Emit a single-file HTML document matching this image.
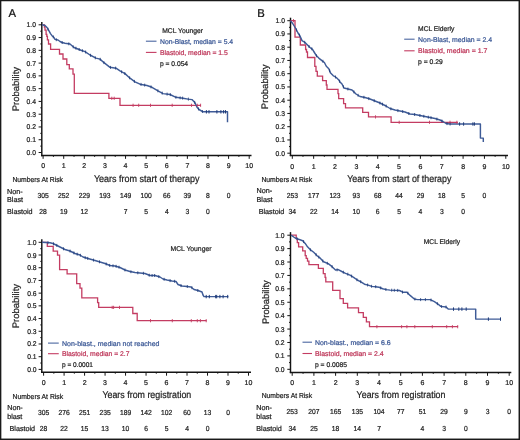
<!DOCTYPE html>
<html><head><meta charset="utf-8"><style>
html,body{margin:0;padding:0;background:#fff;}
body{width:520px;height:440px;overflow:hidden;}
svg{display:block;font-family:"Liberation Sans", sans-serif;}
text{stroke-width:0.22px;}
svg{will-change:transform;text-rendering:geometricPrecision;}
</style></head><body>
<svg width="520" height="440" viewBox="0 0 520 440">
<rect x="0" y="0" width="520" height="440" fill="#fff"/>
<g fill="#1a1a1a"><rect x="0" y="0" width="520" height="1.25"/><rect x="0" y="0" width="1.35" height="440"/><rect x="518.55" y="0" width="1.45" height="440"/><rect x="0" y="438.55" width="520" height="1.45"/></g>
<line x1="41.8" y1="22" x2="41.8" y2="156.17499999999998" stroke="#141414" stroke-width="1.45"/>
<line x1="41.074999999999996" y1="155.45" x2="251.5" y2="155.45" stroke="#141414" stroke-width="1.45"/>
<line x1="38.60" y1="152.50" x2="41.8" y2="152.50" stroke="#141414" stroke-width="1"/>
<text x="36" y="155.00" font-size="7" fill="#222" stroke="#222" text-anchor="end" textLength="9.4" lengthAdjust="spacingAndGlyphs">0.0</text>
<line x1="40.30" y1="146.12" x2="41.8" y2="146.12" stroke="#141414" stroke-width="1"/>
<line x1="38.60" y1="139.73" x2="41.8" y2="139.73" stroke="#141414" stroke-width="1"/>
<text x="36" y="142.23" font-size="7" fill="#222" stroke="#222" text-anchor="end" textLength="9.4" lengthAdjust="spacingAndGlyphs">0.1</text>
<line x1="40.30" y1="133.34" x2="41.8" y2="133.34" stroke="#141414" stroke-width="1"/>
<line x1="38.60" y1="126.96" x2="41.8" y2="126.96" stroke="#141414" stroke-width="1"/>
<text x="36" y="129.46" font-size="7" fill="#222" stroke="#222" text-anchor="end" textLength="9.4" lengthAdjust="spacingAndGlyphs">0.2</text>
<line x1="40.30" y1="120.58" x2="41.8" y2="120.58" stroke="#141414" stroke-width="1"/>
<line x1="38.60" y1="114.19" x2="41.8" y2="114.19" stroke="#141414" stroke-width="1"/>
<text x="36" y="116.69" font-size="7" fill="#222" stroke="#222" text-anchor="end" textLength="9.4" lengthAdjust="spacingAndGlyphs">0.3</text>
<line x1="40.30" y1="107.81" x2="41.8" y2="107.81" stroke="#141414" stroke-width="1"/>
<line x1="38.60" y1="101.42" x2="41.8" y2="101.42" stroke="#141414" stroke-width="1"/>
<text x="36" y="103.92" font-size="7" fill="#222" stroke="#222" text-anchor="end" textLength="9.4" lengthAdjust="spacingAndGlyphs">0.4</text>
<line x1="40.30" y1="95.03" x2="41.8" y2="95.03" stroke="#141414" stroke-width="1"/>
<line x1="38.60" y1="88.65" x2="41.8" y2="88.65" stroke="#141414" stroke-width="1"/>
<text x="36" y="91.15" font-size="7" fill="#222" stroke="#222" text-anchor="end" textLength="9.4" lengthAdjust="spacingAndGlyphs">0.5</text>
<line x1="40.30" y1="82.26" x2="41.8" y2="82.26" stroke="#141414" stroke-width="1"/>
<line x1="38.60" y1="75.88" x2="41.8" y2="75.88" stroke="#141414" stroke-width="1"/>
<text x="36" y="78.38" font-size="7" fill="#222" stroke="#222" text-anchor="end" textLength="9.4" lengthAdjust="spacingAndGlyphs">0.6</text>
<line x1="40.30" y1="69.49" x2="41.8" y2="69.49" stroke="#141414" stroke-width="1"/>
<line x1="38.60" y1="63.11" x2="41.8" y2="63.11" stroke="#141414" stroke-width="1"/>
<text x="36" y="65.61" font-size="7" fill="#222" stroke="#222" text-anchor="end" textLength="9.4" lengthAdjust="spacingAndGlyphs">0.7</text>
<line x1="40.30" y1="56.72" x2="41.8" y2="56.72" stroke="#141414" stroke-width="1"/>
<line x1="38.60" y1="50.34" x2="41.8" y2="50.34" stroke="#141414" stroke-width="1"/>
<text x="36" y="52.84" font-size="7" fill="#222" stroke="#222" text-anchor="end" textLength="9.4" lengthAdjust="spacingAndGlyphs">0.8</text>
<line x1="40.30" y1="43.95" x2="41.8" y2="43.95" stroke="#141414" stroke-width="1"/>
<line x1="38.60" y1="37.57" x2="41.8" y2="37.57" stroke="#141414" stroke-width="1"/>
<text x="36" y="40.07" font-size="7" fill="#222" stroke="#222" text-anchor="end" textLength="9.4" lengthAdjust="spacingAndGlyphs">0.9</text>
<line x1="40.30" y1="31.19" x2="41.8" y2="31.19" stroke="#141414" stroke-width="1"/>
<line x1="38.60" y1="24.80" x2="41.8" y2="24.80" stroke="#141414" stroke-width="1"/>
<text x="36" y="27.30" font-size="7" fill="#222" stroke="#222" text-anchor="end" textLength="9.4" lengthAdjust="spacingAndGlyphs">1.0</text>
<line x1="43.10" y1="155.45" x2="43.10" y2="158.85" stroke="#141414" stroke-width="1"/>
<text x="43.10" y="168.20" font-size="7" fill="#222" stroke="#222" text-anchor="middle">0</text>
<line x1="53.41" y1="155.45" x2="53.41" y2="156.85" stroke="#141414" stroke-width="1"/>
<line x1="63.71" y1="155.45" x2="63.71" y2="158.85" stroke="#141414" stroke-width="1"/>
<text x="63.71" y="168.20" font-size="7" fill="#222" stroke="#222" text-anchor="middle">1</text>
<line x1="74.02" y1="155.45" x2="74.02" y2="156.85" stroke="#141414" stroke-width="1"/>
<line x1="84.32" y1="155.45" x2="84.32" y2="158.85" stroke="#141414" stroke-width="1"/>
<text x="84.32" y="168.20" font-size="7" fill="#222" stroke="#222" text-anchor="middle">2</text>
<line x1="94.62" y1="155.45" x2="94.62" y2="156.85" stroke="#141414" stroke-width="1"/>
<line x1="104.93" y1="155.45" x2="104.93" y2="158.85" stroke="#141414" stroke-width="1"/>
<text x="104.93" y="168.20" font-size="7" fill="#222" stroke="#222" text-anchor="middle">3</text>
<line x1="115.23" y1="155.45" x2="115.23" y2="156.85" stroke="#141414" stroke-width="1"/>
<line x1="125.54" y1="155.45" x2="125.54" y2="158.85" stroke="#141414" stroke-width="1"/>
<text x="125.54" y="168.20" font-size="7" fill="#222" stroke="#222" text-anchor="middle">4</text>
<line x1="135.84" y1="155.45" x2="135.84" y2="156.85" stroke="#141414" stroke-width="1"/>
<line x1="146.15" y1="155.45" x2="146.15" y2="158.85" stroke="#141414" stroke-width="1"/>
<text x="146.15" y="168.20" font-size="7" fill="#222" stroke="#222" text-anchor="middle">5</text>
<line x1="156.45" y1="155.45" x2="156.45" y2="156.85" stroke="#141414" stroke-width="1"/>
<line x1="166.76" y1="155.45" x2="166.76" y2="158.85" stroke="#141414" stroke-width="1"/>
<text x="166.76" y="168.20" font-size="7" fill="#222" stroke="#222" text-anchor="middle">6</text>
<line x1="177.06" y1="155.45" x2="177.06" y2="156.85" stroke="#141414" stroke-width="1"/>
<line x1="187.37" y1="155.45" x2="187.37" y2="158.85" stroke="#141414" stroke-width="1"/>
<text x="187.37" y="168.20" font-size="7" fill="#222" stroke="#222" text-anchor="middle">7</text>
<line x1="197.67" y1="155.45" x2="197.67" y2="156.85" stroke="#141414" stroke-width="1"/>
<line x1="207.98" y1="155.45" x2="207.98" y2="158.85" stroke="#141414" stroke-width="1"/>
<text x="207.98" y="168.20" font-size="7" fill="#222" stroke="#222" text-anchor="middle">8</text>
<line x1="218.28" y1="155.45" x2="218.28" y2="156.85" stroke="#141414" stroke-width="1"/>
<line x1="228.59" y1="155.45" x2="228.59" y2="158.85" stroke="#141414" stroke-width="1"/>
<text x="228.59" y="168.20" font-size="7" fill="#222" stroke="#222" text-anchor="middle">9</text>
<line x1="238.89" y1="155.45" x2="238.89" y2="156.85" stroke="#141414" stroke-width="1"/>
<line x1="249.20" y1="155.45" x2="249.20" y2="158.85" stroke="#141414" stroke-width="1"/>
<text x="249.20" y="168.20" font-size="7" fill="#222" stroke="#222" text-anchor="middle">10</text>
<path d="M42.5,24.8 H44.4 V27 H45 V30.2 H46.1 V34.3 H46.8 V36.4 H47.4 V39.8 H48.5 V44 H50.6 V49.4 H59.5 V54 H63 V59 H66.8 V64.6 H69.3 V68.9 H73 V74.1 H74.3 V93.4 H108.9 V98.3 H120 V105.3 H200.9" fill="none" stroke="#c43c62" stroke-width="1.3"/>
<polyline points="42,24.8 45,25.5 47,27.5 49,30.9 50.5,33.6 52,35.7 54,37.5 55,39.4 58,40 60,41.5 62,42.5 65,43.2 70,44 74,47.5 81,50.2 85,51.6 90,55 96,58.1 100,59.1 104,62.7 110,67.3 116,68.2 120,70.9 125,73.6 130,78.2 135,81.8 140,84.2 147,85.5 152,87.3 158,90.9 163,93.6 170,94.5 176,97.3 183,98.2 188,99.1 192,99.6 195,102.7 197,107.3 199,109.5 203,111.8 227.5,111.8 227.5,122.2" fill="none" stroke="#3e5b97" stroke-width="1.45" stroke-linejoin="round"/>
<line x1="111.8" y1="96.7" x2="111.8" y2="99.89999999999999" stroke="#c43c62" stroke-width="0.9"/>
<line x1="114.2" y1="96.7" x2="114.2" y2="99.89999999999999" stroke="#c43c62" stroke-width="0.9"/>
<line x1="133.1" y1="103.7" x2="133.1" y2="106.89999999999999" stroke="#c43c62" stroke-width="0.9"/>
<line x1="138.7" y1="103.7" x2="138.7" y2="106.89999999999999" stroke="#c43c62" stroke-width="0.9"/>
<line x1="150.5" y1="103.7" x2="150.5" y2="106.89999999999999" stroke="#c43c62" stroke-width="0.9"/>
<line x1="172.2" y1="103.7" x2="172.2" y2="106.89999999999999" stroke="#c43c62" stroke-width="0.9"/>
<line x1="191.5" y1="103.7" x2="191.5" y2="106.89999999999999" stroke="#c43c62" stroke-width="0.9"/>
<line x1="197.3" y1="103.7" x2="197.3" y2="106.89999999999999" stroke="#c43c62" stroke-width="0.9"/>
<line x1="200.6" y1="103.7" x2="200.6" y2="106.89999999999999" stroke="#c43c62" stroke-width="0.9"/>
<line x1="206.4" y1="110.1" x2="206.4" y2="113.5" stroke="#1f3b78" stroke-width="1"/>
<line x1="209" y1="110.1" x2="209" y2="113.5" stroke="#1f3b78" stroke-width="1"/>
<line x1="216.9" y1="110.1" x2="216.9" y2="113.5" stroke="#1f3b78" stroke-width="1"/>
<line x1="220.9" y1="110.1" x2="220.9" y2="113.5" stroke="#1f3b78" stroke-width="1"/>
<line x1="223.6" y1="110.1" x2="223.6" y2="113.5" stroke="#1f3b78" stroke-width="1"/>
<line x1="225.5" y1="110.1" x2="225.5" y2="113.5" stroke="#1f3b78" stroke-width="1"/>
<line x1="48.0" y1="27.7" x2="48.0" y2="30.7" stroke="#1f3b78" stroke-width="0.8"/>
<line x1="53.3" y1="35.4" x2="53.3" y2="38.4" stroke="#1f3b78" stroke-width="0.8"/>
<line x1="56.3" y1="38.2" x2="56.3" y2="41.2" stroke="#1f3b78" stroke-width="0.8"/>
<line x1="62.2" y1="41.0" x2="62.2" y2="44.0" stroke="#1f3b78" stroke-width="0.8"/>
<line x1="68.8" y1="42.3" x2="68.8" y2="45.3" stroke="#1f3b78" stroke-width="0.8"/>
<line x1="73.2" y1="45.3" x2="73.2" y2="48.3" stroke="#1f3b78" stroke-width="0.8"/>
<line x1="75.9" y1="46.7" x2="75.9" y2="49.7" stroke="#1f3b78" stroke-width="0.8"/>
<line x1="79.2" y1="48.0" x2="79.2" y2="51.0" stroke="#1f3b78" stroke-width="0.8"/>
<line x1="82.4" y1="49.2" x2="82.4" y2="52.2" stroke="#1f3b78" stroke-width="0.8"/>
<line x1="85.6" y1="50.5" x2="85.6" y2="53.5" stroke="#1f3b78" stroke-width="0.8"/>
<line x1="90.5" y1="53.8" x2="90.5" y2="56.8" stroke="#1f3b78" stroke-width="0.8"/>
<line x1="95.3" y1="56.3" x2="95.3" y2="59.3" stroke="#1f3b78" stroke-width="0.8"/>
<line x1="100.2" y1="57.8" x2="100.2" y2="60.8" stroke="#1f3b78" stroke-width="0.8"/>
<line x1="103.9" y1="61.1" x2="103.9" y2="64.1" stroke="#1f3b78" stroke-width="0.8"/>
<line x1="110.5" y1="65.9" x2="110.5" y2="68.9" stroke="#1f3b78" stroke-width="0.8"/>
<line x1="115.6" y1="66.6" x2="115.6" y2="69.6" stroke="#1f3b78" stroke-width="0.8"/>
<line x1="121.6" y1="70.3" x2="121.6" y2="73.3" stroke="#1f3b78" stroke-width="0.8"/>
<line x1="124.8" y1="72.0" x2="124.8" y2="75.0" stroke="#1f3b78" stroke-width="0.8"/>
<line x1="129.6" y1="76.3" x2="129.6" y2="79.3" stroke="#1f3b78" stroke-width="0.8"/>
<line x1="134.4" y1="79.9" x2="134.4" y2="82.9" stroke="#1f3b78" stroke-width="0.8"/>
<line x1="141.0" y1="82.9" x2="141.0" y2="85.9" stroke="#1f3b78" stroke-width="0.8"/>
<line x1="144.7" y1="83.6" x2="144.7" y2="86.6" stroke="#1f3b78" stroke-width="0.8"/>
<line x1="151.0" y1="85.4" x2="151.0" y2="88.4" stroke="#1f3b78" stroke-width="0.8"/>
<line x1="157.9" y1="89.3" x2="157.9" y2="92.3" stroke="#1f3b78" stroke-width="0.8"/>
<line x1="162.2" y1="91.6" x2="162.2" y2="94.6" stroke="#1f3b78" stroke-width="0.8"/>
<line x1="167.1" y1="92.6" x2="167.1" y2="95.6" stroke="#1f3b78" stroke-width="0.8"/>
<line x1="170.3" y1="93.1" x2="170.3" y2="96.1" stroke="#1f3b78" stroke-width="0.8"/>
<line x1="175.9" y1="95.8" x2="175.9" y2="98.8" stroke="#1f3b78" stroke-width="0.8"/>
<line x1="180.1" y1="96.3" x2="180.1" y2="99.3" stroke="#1f3b78" stroke-width="0.8"/>
<line x1="182.6" y1="96.6" x2="182.6" y2="99.6" stroke="#1f3b78" stroke-width="0.8"/>
<line x1="188.4" y1="97.6" x2="188.4" y2="100.6" stroke="#1f3b78" stroke-width="0.8"/>
<line x1="194.7" y1="100.9" x2="194.7" y2="103.9" stroke="#1f3b78" stroke-width="0.8"/>
<line x1="198.5" y1="107.4" x2="198.5" y2="110.4" stroke="#1f3b78" stroke-width="0.8"/>
<line x1="202.4" y1="110.0" x2="202.4" y2="113.0" stroke="#1f3b78" stroke-width="0.8"/>
<line x1="290.5" y1="17.7" x2="290.5" y2="156.125" stroke="#141414" stroke-width="1.45"/>
<line x1="289.775" y1="155.4" x2="508" y2="155.4" stroke="#141414" stroke-width="1.45"/>
<line x1="287.30" y1="153.20" x2="290.5" y2="153.20" stroke="#141414" stroke-width="1"/>
<text x="285" y="155.70" font-size="7" fill="#222" stroke="#222" text-anchor="end" textLength="9.4" lengthAdjust="spacingAndGlyphs">0.0</text>
<line x1="289.00" y1="146.57" x2="290.5" y2="146.57" stroke="#141414" stroke-width="1"/>
<line x1="287.30" y1="139.95" x2="290.5" y2="139.95" stroke="#141414" stroke-width="1"/>
<text x="285" y="142.45" font-size="7" fill="#222" stroke="#222" text-anchor="end" textLength="9.4" lengthAdjust="spacingAndGlyphs">0.1</text>
<line x1="289.00" y1="133.32" x2="290.5" y2="133.32" stroke="#141414" stroke-width="1"/>
<line x1="287.30" y1="126.70" x2="290.5" y2="126.70" stroke="#141414" stroke-width="1"/>
<text x="285" y="129.20" font-size="7" fill="#222" stroke="#222" text-anchor="end" textLength="9.4" lengthAdjust="spacingAndGlyphs">0.2</text>
<line x1="289.00" y1="120.07" x2="290.5" y2="120.07" stroke="#141414" stroke-width="1"/>
<line x1="287.30" y1="113.45" x2="290.5" y2="113.45" stroke="#141414" stroke-width="1"/>
<text x="285" y="115.95" font-size="7" fill="#222" stroke="#222" text-anchor="end" textLength="9.4" lengthAdjust="spacingAndGlyphs">0.3</text>
<line x1="289.00" y1="106.82" x2="290.5" y2="106.82" stroke="#141414" stroke-width="1"/>
<line x1="287.30" y1="100.20" x2="290.5" y2="100.20" stroke="#141414" stroke-width="1"/>
<text x="285" y="102.70" font-size="7" fill="#222" stroke="#222" text-anchor="end" textLength="9.4" lengthAdjust="spacingAndGlyphs">0.4</text>
<line x1="289.00" y1="93.57" x2="290.5" y2="93.57" stroke="#141414" stroke-width="1"/>
<line x1="287.30" y1="86.95" x2="290.5" y2="86.95" stroke="#141414" stroke-width="1"/>
<text x="285" y="89.45" font-size="7" fill="#222" stroke="#222" text-anchor="end" textLength="9.4" lengthAdjust="spacingAndGlyphs">0.5</text>
<line x1="289.00" y1="80.32" x2="290.5" y2="80.32" stroke="#141414" stroke-width="1"/>
<line x1="287.30" y1="73.70" x2="290.5" y2="73.70" stroke="#141414" stroke-width="1"/>
<text x="285" y="76.20" font-size="7" fill="#222" stroke="#222" text-anchor="end" textLength="9.4" lengthAdjust="spacingAndGlyphs">0.6</text>
<line x1="289.00" y1="67.07" x2="290.5" y2="67.07" stroke="#141414" stroke-width="1"/>
<line x1="287.30" y1="60.45" x2="290.5" y2="60.45" stroke="#141414" stroke-width="1"/>
<text x="285" y="62.95" font-size="7" fill="#222" stroke="#222" text-anchor="end" textLength="9.4" lengthAdjust="spacingAndGlyphs">0.7</text>
<line x1="289.00" y1="53.82" x2="290.5" y2="53.82" stroke="#141414" stroke-width="1"/>
<line x1="287.30" y1="47.20" x2="290.5" y2="47.20" stroke="#141414" stroke-width="1"/>
<text x="285" y="49.70" font-size="7" fill="#222" stroke="#222" text-anchor="end" textLength="9.4" lengthAdjust="spacingAndGlyphs">0.8</text>
<line x1="289.00" y1="40.57" x2="290.5" y2="40.57" stroke="#141414" stroke-width="1"/>
<line x1="287.30" y1="33.95" x2="290.5" y2="33.95" stroke="#141414" stroke-width="1"/>
<text x="285" y="36.45" font-size="7" fill="#222" stroke="#222" text-anchor="end" textLength="9.4" lengthAdjust="spacingAndGlyphs">0.9</text>
<line x1="289.00" y1="27.32" x2="290.5" y2="27.32" stroke="#141414" stroke-width="1"/>
<line x1="287.30" y1="20.70" x2="290.5" y2="20.70" stroke="#141414" stroke-width="1"/>
<text x="285" y="23.20" font-size="7" fill="#222" stroke="#222" text-anchor="end" textLength="9.4" lengthAdjust="spacingAndGlyphs">1.0</text>
<line x1="292.30" y1="155.4" x2="292.30" y2="158.80" stroke="#141414" stroke-width="1"/>
<text x="292.30" y="168.50" font-size="7" fill="#222" stroke="#222" text-anchor="middle">0</text>
<line x1="302.98" y1="155.4" x2="302.98" y2="156.80" stroke="#141414" stroke-width="1"/>
<line x1="313.65" y1="155.4" x2="313.65" y2="158.80" stroke="#141414" stroke-width="1"/>
<text x="313.65" y="168.50" font-size="7" fill="#222" stroke="#222" text-anchor="middle">1</text>
<line x1="324.33" y1="155.4" x2="324.33" y2="156.80" stroke="#141414" stroke-width="1"/>
<line x1="335.00" y1="155.4" x2="335.00" y2="158.80" stroke="#141414" stroke-width="1"/>
<text x="335.00" y="168.50" font-size="7" fill="#222" stroke="#222" text-anchor="middle">2</text>
<line x1="345.68" y1="155.4" x2="345.68" y2="156.80" stroke="#141414" stroke-width="1"/>
<line x1="356.35" y1="155.4" x2="356.35" y2="158.80" stroke="#141414" stroke-width="1"/>
<text x="356.35" y="168.50" font-size="7" fill="#222" stroke="#222" text-anchor="middle">3</text>
<line x1="367.03" y1="155.4" x2="367.03" y2="156.80" stroke="#141414" stroke-width="1"/>
<line x1="377.70" y1="155.4" x2="377.70" y2="158.80" stroke="#141414" stroke-width="1"/>
<text x="377.70" y="168.50" font-size="7" fill="#222" stroke="#222" text-anchor="middle">4</text>
<line x1="388.38" y1="155.4" x2="388.38" y2="156.80" stroke="#141414" stroke-width="1"/>
<line x1="399.05" y1="155.4" x2="399.05" y2="158.80" stroke="#141414" stroke-width="1"/>
<text x="399.05" y="168.50" font-size="7" fill="#222" stroke="#222" text-anchor="middle">5</text>
<line x1="409.73" y1="155.4" x2="409.73" y2="156.80" stroke="#141414" stroke-width="1"/>
<line x1="420.40" y1="155.4" x2="420.40" y2="158.80" stroke="#141414" stroke-width="1"/>
<text x="420.40" y="168.50" font-size="7" fill="#222" stroke="#222" text-anchor="middle">6</text>
<line x1="431.08" y1="155.4" x2="431.08" y2="156.80" stroke="#141414" stroke-width="1"/>
<line x1="441.75" y1="155.4" x2="441.75" y2="158.80" stroke="#141414" stroke-width="1"/>
<text x="441.75" y="168.50" font-size="7" fill="#222" stroke="#222" text-anchor="middle">7</text>
<line x1="452.43" y1="155.4" x2="452.43" y2="156.80" stroke="#141414" stroke-width="1"/>
<line x1="463.10" y1="155.4" x2="463.10" y2="158.80" stroke="#141414" stroke-width="1"/>
<text x="463.10" y="168.50" font-size="7" fill="#222" stroke="#222" text-anchor="middle">8</text>
<line x1="473.78" y1="155.4" x2="473.78" y2="156.80" stroke="#141414" stroke-width="1"/>
<line x1="484.45" y1="155.4" x2="484.45" y2="158.80" stroke="#141414" stroke-width="1"/>
<text x="484.45" y="168.50" font-size="7" fill="#222" stroke="#222" text-anchor="middle">9</text>
<line x1="495.12" y1="155.4" x2="495.12" y2="156.80" stroke="#141414" stroke-width="1"/>
<line x1="505.80" y1="155.4" x2="505.80" y2="158.80" stroke="#141414" stroke-width="1"/>
<text x="505.80" y="168.50" font-size="7" fill="#222" stroke="#222" text-anchor="middle">10</text>
<path d="M290.5,20.7 H295 V37.2 H300.3 V45 H305.6 V49.5 H306.5 V52 H307.5 V57.5 H314.8 V66.3 H316 V71.3 H317.3 V76.2 H322.6 V80.6 H326.3 V85 H327 V89.3 H338 V93.6 H338.7 V98.7 H343.6 V103.6 H345.5 V107.8 H362.7 V112.4 H368.5 V116.9 H391.1 V122.3 H457.9" fill="none" stroke="#c43c62" stroke-width="1.3"/>
<polyline points="290.5,20.7 293,24 296,29 298,33 300,36 302,40.6 305,42.5 307.5,45 310,47.5 312.5,49.4 314.4,52.5 316.3,55.6 318.8,58.1 321.9,60.6 324.4,62.5 326.3,66.3 328.8,68.8 330.6,73.1 333.1,75.6 336.3,77.5 338.8,80 340,81.9 342,84 344,88 348,89 352,90 356,94 360,96.5 365,97.5 370,99 375,101 380,103 386,106 390,108.5 395,110 400,111 405,112 410,114 415,114.5 420,115.5 425,116.5 430,117.5 435,118.5 440,120 443,121.5 446,123.5 450,124 480.4,124 480.4,138.1 483.3,138.1 483.3,142.1" fill="none" stroke="#3e5b97" stroke-width="1.45" stroke-linejoin="round"/>
<line x1="293.5" y1="19.099999999999998" x2="293.5" y2="22.3" stroke="#c43c62" stroke-width="0.9"/>
<line x1="375.5" y1="115.30000000000001" x2="375.5" y2="118.5" stroke="#c43c62" stroke-width="0.9"/>
<line x1="399.2" y1="120.7" x2="399.2" y2="123.89999999999999" stroke="#c43c62" stroke-width="0.9"/>
<line x1="429.5" y1="120.7" x2="429.5" y2="123.89999999999999" stroke="#c43c62" stroke-width="0.9"/>
<line x1="450" y1="120.7" x2="450" y2="123.89999999999999" stroke="#c43c62" stroke-width="0.9"/>
<line x1="456.9" y1="120.7" x2="456.9" y2="123.89999999999999" stroke="#c43c62" stroke-width="0.9"/>
<line x1="459.6" y1="122.3" x2="459.6" y2="125.7" stroke="#1f3b78" stroke-width="1"/>
<line x1="463.6" y1="122.3" x2="463.6" y2="125.7" stroke="#1f3b78" stroke-width="1"/>
<line x1="472.9" y1="122.3" x2="472.9" y2="125.7" stroke="#1f3b78" stroke-width="1"/>
<line x1="474.4" y1="122.3" x2="474.4" y2="125.7" stroke="#1f3b78" stroke-width="1"/>
<line x1="296.5" y1="28.5" x2="296.5" y2="31.5" stroke="#1f3b78" stroke-width="0.8"/>
<line x1="299.5" y1="33.7" x2="299.5" y2="36.7" stroke="#1f3b78" stroke-width="0.8"/>
<line x1="304.7" y1="40.8" x2="304.7" y2="43.8" stroke="#1f3b78" stroke-width="0.8"/>
<line x1="309.0" y1="45.0" x2="309.0" y2="48.0" stroke="#1f3b78" stroke-width="0.8"/>
<line x1="311.8" y1="47.3" x2="311.8" y2="50.3" stroke="#1f3b78" stroke-width="0.8"/>
<line x1="316.5" y1="54.3" x2="316.5" y2="57.3" stroke="#1f3b78" stroke-width="0.8"/>
<line x1="322.9" y1="59.8" x2="322.9" y2="62.8" stroke="#1f3b78" stroke-width="0.8"/>
<line x1="329.6" y1="69.2" x2="329.6" y2="72.2" stroke="#1f3b78" stroke-width="0.8"/>
<line x1="335.5" y1="75.5" x2="335.5" y2="78.5" stroke="#1f3b78" stroke-width="0.8"/>
<line x1="339.6" y1="79.8" x2="339.6" y2="82.8" stroke="#1f3b78" stroke-width="0.8"/>
<line x1="343.4" y1="85.3" x2="343.4" y2="88.3" stroke="#1f3b78" stroke-width="0.8"/>
<line x1="347.9" y1="87.5" x2="347.9" y2="90.5" stroke="#1f3b78" stroke-width="0.8"/>
<line x1="353.9" y1="90.4" x2="353.9" y2="93.4" stroke="#1f3b78" stroke-width="0.8"/>
<line x1="358.1" y1="93.8" x2="358.1" y2="96.8" stroke="#1f3b78" stroke-width="0.8"/>
<line x1="363.9" y1="95.8" x2="363.9" y2="98.8" stroke="#1f3b78" stroke-width="0.8"/>
<line x1="368.8" y1="97.1" x2="368.8" y2="100.1" stroke="#1f3b78" stroke-width="0.8"/>
<line x1="374.2" y1="99.2" x2="374.2" y2="102.2" stroke="#1f3b78" stroke-width="0.8"/>
<line x1="379.9" y1="101.5" x2="379.9" y2="104.5" stroke="#1f3b78" stroke-width="0.8"/>
<line x1="382.5" y1="102.7" x2="382.5" y2="105.7" stroke="#1f3b78" stroke-width="0.8"/>
<line x1="386.2" y1="104.6" x2="386.2" y2="107.6" stroke="#1f3b78" stroke-width="0.8"/>
<line x1="390.9" y1="107.3" x2="390.9" y2="110.3" stroke="#1f3b78" stroke-width="0.8"/>
<line x1="397.9" y1="109.1" x2="397.9" y2="112.1" stroke="#1f3b78" stroke-width="0.8"/>
<line x1="402.7" y1="110.0" x2="402.7" y2="113.0" stroke="#1f3b78" stroke-width="0.8"/>
<line x1="408.8" y1="112.0" x2="408.8" y2="115.0" stroke="#1f3b78" stroke-width="0.8"/>
<line x1="414.6" y1="113.0" x2="414.6" y2="116.0" stroke="#1f3b78" stroke-width="0.8"/>
<line x1="419.9" y1="114.0" x2="419.9" y2="117.0" stroke="#1f3b78" stroke-width="0.8"/>
<line x1="423.8" y1="114.8" x2="423.8" y2="117.8" stroke="#1f3b78" stroke-width="0.8"/>
<line x1="428.3" y1="115.7" x2="428.3" y2="118.7" stroke="#1f3b78" stroke-width="0.8"/>
<line x1="431.0" y1="116.2" x2="431.0" y2="119.2" stroke="#1f3b78" stroke-width="0.8"/>
<line x1="436.9" y1="117.6" x2="436.9" y2="120.6" stroke="#1f3b78" stroke-width="0.8"/>
<line x1="441.9" y1="119.5" x2="441.9" y2="122.5" stroke="#1f3b78" stroke-width="0.8"/>
<line x1="447.0" y1="122.1" x2="447.0" y2="125.1" stroke="#1f3b78" stroke-width="0.8"/>
<line x1="450.1" y1="122.5" x2="450.1" y2="125.5" stroke="#1f3b78" stroke-width="0.8"/>
<line x1="41.8" y1="239.3" x2="41.8" y2="373.02500000000003" stroke="#141414" stroke-width="1.45"/>
<line x1="41.074999999999996" y1="372.3" x2="251" y2="372.3" stroke="#141414" stroke-width="1.45"/>
<line x1="38.60" y1="369.40" x2="41.8" y2="369.40" stroke="#141414" stroke-width="1"/>
<text x="36.6" y="371.90" font-size="7" fill="#222" stroke="#222" text-anchor="end" textLength="9.4" lengthAdjust="spacingAndGlyphs">0.0</text>
<line x1="40.30" y1="363.04" x2="41.8" y2="363.04" stroke="#141414" stroke-width="1"/>
<line x1="38.60" y1="356.69" x2="41.8" y2="356.69" stroke="#141414" stroke-width="1"/>
<text x="36.6" y="359.19" font-size="7" fill="#222" stroke="#222" text-anchor="end" textLength="9.4" lengthAdjust="spacingAndGlyphs">0.1</text>
<line x1="40.30" y1="350.33" x2="41.8" y2="350.33" stroke="#141414" stroke-width="1"/>
<line x1="38.60" y1="343.98" x2="41.8" y2="343.98" stroke="#141414" stroke-width="1"/>
<text x="36.6" y="346.48" font-size="7" fill="#222" stroke="#222" text-anchor="end" textLength="9.4" lengthAdjust="spacingAndGlyphs">0.2</text>
<line x1="40.30" y1="337.62" x2="41.8" y2="337.62" stroke="#141414" stroke-width="1"/>
<line x1="38.60" y1="331.27" x2="41.8" y2="331.27" stroke="#141414" stroke-width="1"/>
<text x="36.6" y="333.77" font-size="7" fill="#222" stroke="#222" text-anchor="end" textLength="9.4" lengthAdjust="spacingAndGlyphs">0.3</text>
<line x1="40.30" y1="324.91" x2="41.8" y2="324.91" stroke="#141414" stroke-width="1"/>
<line x1="38.60" y1="318.56" x2="41.8" y2="318.56" stroke="#141414" stroke-width="1"/>
<text x="36.6" y="321.06" font-size="7" fill="#222" stroke="#222" text-anchor="end" textLength="9.4" lengthAdjust="spacingAndGlyphs">0.4</text>
<line x1="40.30" y1="312.20" x2="41.8" y2="312.20" stroke="#141414" stroke-width="1"/>
<line x1="38.60" y1="305.85" x2="41.8" y2="305.85" stroke="#141414" stroke-width="1"/>
<text x="36.6" y="308.35" font-size="7" fill="#222" stroke="#222" text-anchor="end" textLength="9.4" lengthAdjust="spacingAndGlyphs">0.5</text>
<line x1="40.30" y1="299.50" x2="41.8" y2="299.50" stroke="#141414" stroke-width="1"/>
<line x1="38.60" y1="293.14" x2="41.8" y2="293.14" stroke="#141414" stroke-width="1"/>
<text x="36.6" y="295.64" font-size="7" fill="#222" stroke="#222" text-anchor="end" textLength="9.4" lengthAdjust="spacingAndGlyphs">0.6</text>
<line x1="40.30" y1="286.78" x2="41.8" y2="286.78" stroke="#141414" stroke-width="1"/>
<line x1="38.60" y1="280.43" x2="41.8" y2="280.43" stroke="#141414" stroke-width="1"/>
<text x="36.6" y="282.93" font-size="7" fill="#222" stroke="#222" text-anchor="end" textLength="9.4" lengthAdjust="spacingAndGlyphs">0.7</text>
<line x1="40.30" y1="274.07" x2="41.8" y2="274.07" stroke="#141414" stroke-width="1"/>
<line x1="38.60" y1="267.72" x2="41.8" y2="267.72" stroke="#141414" stroke-width="1"/>
<text x="36.6" y="270.22" font-size="7" fill="#222" stroke="#222" text-anchor="end" textLength="9.4" lengthAdjust="spacingAndGlyphs">0.8</text>
<line x1="40.30" y1="261.37" x2="41.8" y2="261.37" stroke="#141414" stroke-width="1"/>
<line x1="38.60" y1="255.01" x2="41.8" y2="255.01" stroke="#141414" stroke-width="1"/>
<text x="36.6" y="257.51" font-size="7" fill="#222" stroke="#222" text-anchor="end" textLength="9.4" lengthAdjust="spacingAndGlyphs">0.9</text>
<line x1="40.30" y1="248.66" x2="41.8" y2="248.66" stroke="#141414" stroke-width="1"/>
<line x1="38.60" y1="242.30" x2="41.8" y2="242.30" stroke="#141414" stroke-width="1"/>
<text x="36.6" y="244.80" font-size="7" fill="#222" stroke="#222" text-anchor="end" textLength="9.4" lengthAdjust="spacingAndGlyphs">1.0</text>
<line x1="43.60" y1="372.3" x2="43.60" y2="375.70" stroke="#141414" stroke-width="1"/>
<text x="43.60" y="384.50" font-size="7" fill="#222" stroke="#222" text-anchor="middle">0</text>
<line x1="53.84" y1="372.3" x2="53.84" y2="373.70" stroke="#141414" stroke-width="1"/>
<line x1="64.09" y1="372.3" x2="64.09" y2="375.70" stroke="#141414" stroke-width="1"/>
<text x="64.09" y="384.50" font-size="7" fill="#222" stroke="#222" text-anchor="middle">1</text>
<line x1="74.34" y1="372.3" x2="74.34" y2="373.70" stroke="#141414" stroke-width="1"/>
<line x1="84.58" y1="372.3" x2="84.58" y2="375.70" stroke="#141414" stroke-width="1"/>
<text x="84.58" y="384.50" font-size="7" fill="#222" stroke="#222" text-anchor="middle">2</text>
<line x1="94.82" y1="372.3" x2="94.82" y2="373.70" stroke="#141414" stroke-width="1"/>
<line x1="105.07" y1="372.3" x2="105.07" y2="375.70" stroke="#141414" stroke-width="1"/>
<text x="105.07" y="384.50" font-size="7" fill="#222" stroke="#222" text-anchor="middle">3</text>
<line x1="115.31" y1="372.3" x2="115.31" y2="373.70" stroke="#141414" stroke-width="1"/>
<line x1="125.56" y1="372.3" x2="125.56" y2="375.70" stroke="#141414" stroke-width="1"/>
<text x="125.56" y="384.50" font-size="7" fill="#222" stroke="#222" text-anchor="middle">4</text>
<line x1="135.81" y1="372.3" x2="135.81" y2="373.70" stroke="#141414" stroke-width="1"/>
<line x1="146.05" y1="372.3" x2="146.05" y2="375.70" stroke="#141414" stroke-width="1"/>
<text x="146.05" y="384.50" font-size="7" fill="#222" stroke="#222" text-anchor="middle">5</text>
<line x1="156.29" y1="372.3" x2="156.29" y2="373.70" stroke="#141414" stroke-width="1"/>
<line x1="166.54" y1="372.3" x2="166.54" y2="375.70" stroke="#141414" stroke-width="1"/>
<text x="166.54" y="384.50" font-size="7" fill="#222" stroke="#222" text-anchor="middle">6</text>
<line x1="176.78" y1="372.3" x2="176.78" y2="373.70" stroke="#141414" stroke-width="1"/>
<line x1="187.03" y1="372.3" x2="187.03" y2="375.70" stroke="#141414" stroke-width="1"/>
<text x="187.03" y="384.50" font-size="7" fill="#222" stroke="#222" text-anchor="middle">7</text>
<line x1="197.27" y1="372.3" x2="197.27" y2="373.70" stroke="#141414" stroke-width="1"/>
<line x1="207.52" y1="372.3" x2="207.52" y2="375.70" stroke="#141414" stroke-width="1"/>
<text x="207.52" y="384.50" font-size="7" fill="#222" stroke="#222" text-anchor="middle">8</text>
<line x1="217.76" y1="372.3" x2="217.76" y2="373.70" stroke="#141414" stroke-width="1"/>
<line x1="228.01" y1="372.3" x2="228.01" y2="375.70" stroke="#141414" stroke-width="1"/>
<text x="228.01" y="384.50" font-size="7" fill="#222" stroke="#222" text-anchor="middle">9</text>
<line x1="238.25" y1="372.3" x2="238.25" y2="373.70" stroke="#141414" stroke-width="1"/>
<line x1="248.50" y1="372.3" x2="248.50" y2="375.70" stroke="#141414" stroke-width="1"/>
<text x="248.50" y="384.50" font-size="7" fill="#222" stroke="#222" text-anchor="middle">10</text>
<path d="M42,242.3 H47.3 V246.4 H53.2 V251.1 H57.5 V255.2 H59.6 V269.6 H67.1 V273.8 H76.7 V283.6 H80 V288.2 H81.8 V297.8 H97.6 V302.7 H98.7 V307.4 H132.8 V313.5 H137.2 V320.7 H206.6" fill="none" stroke="#c43c62" stroke-width="1.3"/>
<polyline points="42,242.3 50,242.8 53,243.5 56,245 60,247 65,249.5 70,251 75,253.5 80,255 83,257 88,258.5 95,260.5 100,262 105,263.5 110,265.5 115,266 120,267.5 125,270 130,271.5 135,272.5 140,273 145,273.5 150,275.5 155,275.5 160,277 163,279 167,280 172,281 176,281.5 178,284.5 182,286 187,286.5 191,287 194,289.5 198,290.5 202,292 203,295 204,296.6 228.4,296.6" fill="none" stroke="#3e5b97" stroke-width="1.45" stroke-linejoin="round"/>
<line x1="112.2" y1="305.79999999999995" x2="112.2" y2="309.0" stroke="#c43c62" stroke-width="0.9"/>
<line x1="113.6" y1="305.79999999999995" x2="113.6" y2="309.0" stroke="#c43c62" stroke-width="0.9"/>
<line x1="119.5" y1="305.79999999999995" x2="119.5" y2="309.0" stroke="#c43c62" stroke-width="0.9"/>
<line x1="150.5" y1="319.09999999999997" x2="150.5" y2="322.3" stroke="#c43c62" stroke-width="0.9"/>
<line x1="172.3" y1="319.09999999999997" x2="172.3" y2="322.3" stroke="#c43c62" stroke-width="0.9"/>
<line x1="191.3" y1="319.09999999999997" x2="191.3" y2="322.3" stroke="#c43c62" stroke-width="0.9"/>
<line x1="197.3" y1="319.09999999999997" x2="197.3" y2="322.3" stroke="#c43c62" stroke-width="0.9"/>
<line x1="200.4" y1="319.09999999999997" x2="200.4" y2="322.3" stroke="#c43c62" stroke-width="0.9"/>
<line x1="206.2" y1="319.09999999999997" x2="206.2" y2="322.3" stroke="#c43c62" stroke-width="0.9"/>
<line x1="206.2" y1="294.90000000000003" x2="206.2" y2="298.3" stroke="#1f3b78" stroke-width="1"/>
<line x1="209.3" y1="294.90000000000003" x2="209.3" y2="298.3" stroke="#1f3b78" stroke-width="1"/>
<line x1="215.7" y1="294.90000000000003" x2="215.7" y2="298.3" stroke="#1f3b78" stroke-width="1"/>
<line x1="216.7" y1="294.90000000000003" x2="216.7" y2="298.3" stroke="#1f3b78" stroke-width="1"/>
<line x1="219.9" y1="294.90000000000003" x2="219.9" y2="298.3" stroke="#1f3b78" stroke-width="1"/>
<line x1="223.1" y1="294.90000000000003" x2="223.1" y2="298.3" stroke="#1f3b78" stroke-width="1"/>
<line x1="227.7" y1="294.90000000000003" x2="227.7" y2="298.3" stroke="#1f3b78" stroke-width="1"/>
<line x1="48.0" y1="241.2" x2="48.0" y2="244.2" stroke="#1f3b78" stroke-width="0.8"/>
<line x1="53.5" y1="242.3" x2="53.5" y2="245.3" stroke="#1f3b78" stroke-width="0.8"/>
<line x1="56.8" y1="243.9" x2="56.8" y2="246.9" stroke="#1f3b78" stroke-width="0.8"/>
<line x1="63.5" y1="247.3" x2="63.5" y2="250.3" stroke="#1f3b78" stroke-width="0.8"/>
<line x1="70.0" y1="249.5" x2="70.0" y2="252.5" stroke="#1f3b78" stroke-width="0.8"/>
<line x1="73.9" y1="251.4" x2="73.9" y2="254.4" stroke="#1f3b78" stroke-width="0.8"/>
<line x1="77.2" y1="252.7" x2="77.2" y2="255.7" stroke="#1f3b78" stroke-width="0.8"/>
<line x1="80.4" y1="253.8" x2="80.4" y2="256.8" stroke="#1f3b78" stroke-width="0.8"/>
<line x1="85.2" y1="256.2" x2="85.2" y2="259.2" stroke="#1f3b78" stroke-width="0.8"/>
<line x1="87.7" y1="256.9" x2="87.7" y2="259.9" stroke="#1f3b78" stroke-width="0.8"/>
<line x1="93.5" y1="258.6" x2="93.5" y2="261.6" stroke="#1f3b78" stroke-width="0.8"/>
<line x1="99.5" y1="260.3" x2="99.5" y2="263.3" stroke="#1f3b78" stroke-width="0.8"/>
<line x1="106.2" y1="262.5" x2="106.2" y2="265.5" stroke="#1f3b78" stroke-width="0.8"/>
<line x1="109.7" y1="263.9" x2="109.7" y2="266.9" stroke="#1f3b78" stroke-width="0.8"/>
<line x1="113.0" y1="264.3" x2="113.0" y2="267.3" stroke="#1f3b78" stroke-width="0.8"/>
<line x1="116.1" y1="264.8" x2="116.1" y2="267.8" stroke="#1f3b78" stroke-width="0.8"/>
<line x1="119.0" y1="265.7" x2="119.0" y2="268.7" stroke="#1f3b78" stroke-width="0.8"/>
<line x1="125.0" y1="268.5" x2="125.0" y2="271.5" stroke="#1f3b78" stroke-width="0.8"/>
<line x1="130.9" y1="270.2" x2="130.9" y2="273.2" stroke="#1f3b78" stroke-width="0.8"/>
<line x1="137.8" y1="271.3" x2="137.8" y2="274.3" stroke="#1f3b78" stroke-width="0.8"/>
<line x1="143.4" y1="271.8" x2="143.4" y2="274.8" stroke="#1f3b78" stroke-width="0.8"/>
<line x1="149.2" y1="273.7" x2="149.2" y2="276.7" stroke="#1f3b78" stroke-width="0.8"/>
<line x1="152.1" y1="274.0" x2="152.1" y2="277.0" stroke="#1f3b78" stroke-width="0.8"/>
<line x1="154.6" y1="274.0" x2="154.6" y2="277.0" stroke="#1f3b78" stroke-width="0.8"/>
<line x1="158.8" y1="275.1" x2="158.8" y2="278.1" stroke="#1f3b78" stroke-width="0.8"/>
<line x1="164.1" y1="277.8" x2="164.1" y2="280.8" stroke="#1f3b78" stroke-width="0.8"/>
<line x1="170.1" y1="279.1" x2="170.1" y2="282.1" stroke="#1f3b78" stroke-width="0.8"/>
<line x1="174.6" y1="279.8" x2="174.6" y2="282.8" stroke="#1f3b78" stroke-width="0.8"/>
<line x1="181.0" y1="284.1" x2="181.0" y2="287.1" stroke="#1f3b78" stroke-width="0.8"/>
<line x1="187.3" y1="285.0" x2="187.3" y2="288.0" stroke="#1f3b78" stroke-width="0.8"/>
<line x1="191.9" y1="286.2" x2="191.9" y2="289.2" stroke="#1f3b78" stroke-width="0.8"/>
<line x1="197.8" y1="289.0" x2="197.8" y2="292.0" stroke="#1f3b78" stroke-width="0.8"/>
<line x1="290.5" y1="232.1" x2="290.5" y2="373.125" stroke="#141414" stroke-width="1.45"/>
<line x1="289.775" y1="372.4" x2="511.3" y2="372.4" stroke="#141414" stroke-width="1.45"/>
<line x1="287.30" y1="369.30" x2="290.5" y2="369.30" stroke="#141414" stroke-width="1"/>
<text x="284.6" y="371.80" font-size="7" fill="#222" stroke="#222" text-anchor="end" textLength="9.4" lengthAdjust="spacingAndGlyphs">0.0</text>
<line x1="289.00" y1="362.60" x2="290.5" y2="362.60" stroke="#141414" stroke-width="1"/>
<line x1="287.30" y1="355.89" x2="290.5" y2="355.89" stroke="#141414" stroke-width="1"/>
<text x="284.6" y="358.39" font-size="7" fill="#222" stroke="#222" text-anchor="end" textLength="9.4" lengthAdjust="spacingAndGlyphs">0.1</text>
<line x1="289.00" y1="349.19" x2="290.5" y2="349.19" stroke="#141414" stroke-width="1"/>
<line x1="287.30" y1="342.48" x2="290.5" y2="342.48" stroke="#141414" stroke-width="1"/>
<text x="284.6" y="344.98" font-size="7" fill="#222" stroke="#222" text-anchor="end" textLength="9.4" lengthAdjust="spacingAndGlyphs">0.2</text>
<line x1="289.00" y1="335.77" x2="290.5" y2="335.77" stroke="#141414" stroke-width="1"/>
<line x1="287.30" y1="329.07" x2="290.5" y2="329.07" stroke="#141414" stroke-width="1"/>
<text x="284.6" y="331.57" font-size="7" fill="#222" stroke="#222" text-anchor="end" textLength="9.4" lengthAdjust="spacingAndGlyphs">0.3</text>
<line x1="289.00" y1="322.37" x2="290.5" y2="322.37" stroke="#141414" stroke-width="1"/>
<line x1="287.30" y1="315.66" x2="290.5" y2="315.66" stroke="#141414" stroke-width="1"/>
<text x="284.6" y="318.16" font-size="7" fill="#222" stroke="#222" text-anchor="end" textLength="9.4" lengthAdjust="spacingAndGlyphs">0.4</text>
<line x1="289.00" y1="308.95" x2="290.5" y2="308.95" stroke="#141414" stroke-width="1"/>
<line x1="287.30" y1="302.25" x2="290.5" y2="302.25" stroke="#141414" stroke-width="1"/>
<text x="284.6" y="304.75" font-size="7" fill="#222" stroke="#222" text-anchor="end" textLength="9.4" lengthAdjust="spacingAndGlyphs">0.5</text>
<line x1="289.00" y1="295.54" x2="290.5" y2="295.54" stroke="#141414" stroke-width="1"/>
<line x1="287.30" y1="288.84" x2="290.5" y2="288.84" stroke="#141414" stroke-width="1"/>
<text x="284.6" y="291.34" font-size="7" fill="#222" stroke="#222" text-anchor="end" textLength="9.4" lengthAdjust="spacingAndGlyphs">0.6</text>
<line x1="289.00" y1="282.13" x2="290.5" y2="282.13" stroke="#141414" stroke-width="1"/>
<line x1="287.30" y1="275.43" x2="290.5" y2="275.43" stroke="#141414" stroke-width="1"/>
<text x="284.6" y="277.93" font-size="7" fill="#222" stroke="#222" text-anchor="end" textLength="9.4" lengthAdjust="spacingAndGlyphs">0.7</text>
<line x1="289.00" y1="268.73" x2="290.5" y2="268.73" stroke="#141414" stroke-width="1"/>
<line x1="287.30" y1="262.02" x2="290.5" y2="262.02" stroke="#141414" stroke-width="1"/>
<text x="284.6" y="264.52" font-size="7" fill="#222" stroke="#222" text-anchor="end" textLength="9.4" lengthAdjust="spacingAndGlyphs">0.8</text>
<line x1="289.00" y1="255.31" x2="290.5" y2="255.31" stroke="#141414" stroke-width="1"/>
<line x1="287.30" y1="248.61" x2="290.5" y2="248.61" stroke="#141414" stroke-width="1"/>
<text x="284.6" y="251.11" font-size="7" fill="#222" stroke="#222" text-anchor="end" textLength="9.4" lengthAdjust="spacingAndGlyphs">0.9</text>
<line x1="289.00" y1="241.91" x2="290.5" y2="241.91" stroke="#141414" stroke-width="1"/>
<line x1="287.30" y1="235.20" x2="290.5" y2="235.20" stroke="#141414" stroke-width="1"/>
<text x="284.6" y="237.70" font-size="7" fill="#222" stroke="#222" text-anchor="end" textLength="9.4" lengthAdjust="spacingAndGlyphs">1.0</text>
<line x1="292.20" y1="372.4" x2="292.20" y2="375.80" stroke="#141414" stroke-width="1"/>
<text x="292.20" y="385.00" font-size="7" fill="#222" stroke="#222" text-anchor="middle">0</text>
<line x1="303.05" y1="372.4" x2="303.05" y2="373.80" stroke="#141414" stroke-width="1"/>
<line x1="313.90" y1="372.4" x2="313.90" y2="375.80" stroke="#141414" stroke-width="1"/>
<text x="313.90" y="385.00" font-size="7" fill="#222" stroke="#222" text-anchor="middle">1</text>
<line x1="324.75" y1="372.4" x2="324.75" y2="373.80" stroke="#141414" stroke-width="1"/>
<line x1="335.60" y1="372.4" x2="335.60" y2="375.80" stroke="#141414" stroke-width="1"/>
<text x="335.60" y="385.00" font-size="7" fill="#222" stroke="#222" text-anchor="middle">2</text>
<line x1="346.45" y1="372.4" x2="346.45" y2="373.80" stroke="#141414" stroke-width="1"/>
<line x1="357.30" y1="372.4" x2="357.30" y2="375.80" stroke="#141414" stroke-width="1"/>
<text x="357.30" y="385.00" font-size="7" fill="#222" stroke="#222" text-anchor="middle">3</text>
<line x1="368.15" y1="372.4" x2="368.15" y2="373.80" stroke="#141414" stroke-width="1"/>
<line x1="379.00" y1="372.4" x2="379.00" y2="375.80" stroke="#141414" stroke-width="1"/>
<text x="379.00" y="385.00" font-size="7" fill="#222" stroke="#222" text-anchor="middle">4</text>
<line x1="389.85" y1="372.4" x2="389.85" y2="373.80" stroke="#141414" stroke-width="1"/>
<line x1="400.70" y1="372.4" x2="400.70" y2="375.80" stroke="#141414" stroke-width="1"/>
<text x="400.70" y="385.00" font-size="7" fill="#222" stroke="#222" text-anchor="middle">5</text>
<line x1="411.55" y1="372.4" x2="411.55" y2="373.80" stroke="#141414" stroke-width="1"/>
<line x1="422.40" y1="372.4" x2="422.40" y2="375.80" stroke="#141414" stroke-width="1"/>
<text x="422.40" y="385.00" font-size="7" fill="#222" stroke="#222" text-anchor="middle">6</text>
<line x1="433.25" y1="372.4" x2="433.25" y2="373.80" stroke="#141414" stroke-width="1"/>
<line x1="444.10" y1="372.4" x2="444.10" y2="375.80" stroke="#141414" stroke-width="1"/>
<text x="444.10" y="385.00" font-size="7" fill="#222" stroke="#222" text-anchor="middle">7</text>
<line x1="454.95" y1="372.4" x2="454.95" y2="373.80" stroke="#141414" stroke-width="1"/>
<line x1="465.80" y1="372.4" x2="465.80" y2="375.80" stroke="#141414" stroke-width="1"/>
<text x="465.80" y="385.00" font-size="7" fill="#222" stroke="#222" text-anchor="middle">8</text>
<line x1="476.65" y1="372.4" x2="476.65" y2="373.80" stroke="#141414" stroke-width="1"/>
<line x1="487.50" y1="372.4" x2="487.50" y2="375.80" stroke="#141414" stroke-width="1"/>
<text x="487.50" y="385.00" font-size="7" fill="#222" stroke="#222" text-anchor="middle">9</text>
<line x1="498.35" y1="372.4" x2="498.35" y2="373.80" stroke="#141414" stroke-width="1"/>
<line x1="509.20" y1="372.4" x2="509.20" y2="375.80" stroke="#141414" stroke-width="1"/>
<text x="509.20" y="385.00" font-size="7" fill="#222" stroke="#222" text-anchor="middle">10</text>
<path d="M291,235.2 H296.2 V238.6 H297.3 V242.7 H298.6 V246.8 H302.7 V250.9 H305.2 V255.7 H306.2 V258.4 H307.5 V261.2 H308.9 V264.6 H318.4 V268.4 H323.3 V273.6 H325.1 V277.3 H325.8 V281.8 H332.7 V290.4 H340 V298.7 H343.3 V303.3 H347.6 V307.8 H358.5 V312.7 H363.3 V317.3 H366.4 V321.8 H369.5 V326.7 H458.1" fill="none" stroke="#c43c62" stroke-width="1.3"/>
<polyline points="291,235.2 295.2,238 298.6,239.3 302.7,240.7 305.2,243.4 307.5,246.8 310.2,249.6 313.7,252.3 317.1,255.7 320.5,258.4 323.6,261.8 328.2,263.6 331.8,266.4 335.5,270 338.2,269.6 341.8,271.5 345.5,273.3 350,275.1 353.6,277.3 357.3,280 360.9,281.8 364.5,284.2 368.2,285.1 371.8,286.4 375.5,286.7 379.1,287.3 382.7,288.7 386.4,289.6 390,290.1 399.5,290.5 402.7,292.2 406.9,292.2 410.1,295.4 414.3,299 417.5,299.6 430.2,299.6 434.4,301.7 437.6,303.8 440.8,306.4 446.1,307 448.2,309.1 475.7,309.1 475.7,319.1 501,319.1" fill="none" stroke="#3e5b97" stroke-width="1.45" stroke-linejoin="round"/>
<line x1="376.9" y1="325.09999999999997" x2="376.9" y2="328.3" stroke="#c43c62" stroke-width="0.9"/>
<line x1="401.6" y1="325.09999999999997" x2="401.6" y2="328.3" stroke="#c43c62" stroke-width="0.9"/>
<line x1="406.9" y1="325.09999999999997" x2="406.9" y2="328.3" stroke="#c43c62" stroke-width="0.9"/>
<line x1="414.8" y1="325.09999999999997" x2="414.8" y2="328.3" stroke="#c43c62" stroke-width="0.9"/>
<line x1="432.3" y1="325.09999999999997" x2="432.3" y2="328.3" stroke="#c43c62" stroke-width="0.9"/>
<line x1="446.7" y1="325.09999999999997" x2="446.7" y2="328.3" stroke="#c43c62" stroke-width="0.9"/>
<line x1="452.4" y1="325.09999999999997" x2="452.4" y2="328.3" stroke="#c43c62" stroke-width="0.9"/>
<line x1="457.7" y1="325.09999999999997" x2="457.7" y2="328.3" stroke="#c43c62" stroke-width="0.9"/>
<line x1="453.5" y1="307.40000000000003" x2="453.5" y2="310.8" stroke="#1f3b78" stroke-width="1"/>
<line x1="458.8" y1="307.40000000000003" x2="458.8" y2="310.8" stroke="#1f3b78" stroke-width="1"/>
<line x1="461.9" y1="307.40000000000003" x2="461.9" y2="310.8" stroke="#1f3b78" stroke-width="1"/>
<line x1="466.2" y1="307.40000000000003" x2="466.2" y2="310.8" stroke="#1f3b78" stroke-width="1"/>
<line x1="488.4" y1="317.40000000000003" x2="488.4" y2="320.8" stroke="#1f3b78" stroke-width="1"/>
<line x1="500.5" y1="317.40000000000003" x2="500.5" y2="320.8" stroke="#1f3b78" stroke-width="1"/>
<line x1="297.0" y1="237.2" x2="297.0" y2="240.2" stroke="#1f3b78" stroke-width="0.8"/>
<line x1="303.6" y1="240.1" x2="303.6" y2="243.1" stroke="#1f3b78" stroke-width="0.8"/>
<line x1="310.4" y1="248.3" x2="310.4" y2="251.3" stroke="#1f3b78" stroke-width="0.8"/>
<line x1="316.1" y1="253.2" x2="316.1" y2="256.2" stroke="#1f3b78" stroke-width="0.8"/>
<line x1="318.8" y1="255.6" x2="318.8" y2="258.6" stroke="#1f3b78" stroke-width="0.8"/>
<line x1="322.8" y1="259.5" x2="322.8" y2="262.5" stroke="#1f3b78" stroke-width="0.8"/>
<line x1="327.3" y1="261.8" x2="327.3" y2="264.8" stroke="#1f3b78" stroke-width="0.8"/>
<line x1="332.1" y1="265.2" x2="332.1" y2="268.2" stroke="#1f3b78" stroke-width="0.8"/>
<line x1="337.1" y1="268.3" x2="337.1" y2="271.3" stroke="#1f3b78" stroke-width="0.8"/>
<line x1="343.3" y1="270.7" x2="343.3" y2="273.7" stroke="#1f3b78" stroke-width="0.8"/>
<line x1="347.8" y1="272.7" x2="347.8" y2="275.7" stroke="#1f3b78" stroke-width="0.8"/>
<line x1="351.6" y1="274.6" x2="351.6" y2="277.6" stroke="#1f3b78" stroke-width="0.8"/>
<line x1="356.9" y1="278.2" x2="356.9" y2="281.2" stroke="#1f3b78" stroke-width="0.8"/>
<line x1="360.7" y1="280.2" x2="360.7" y2="283.2" stroke="#1f3b78" stroke-width="0.8"/>
<line x1="367.6" y1="283.5" x2="367.6" y2="286.5" stroke="#1f3b78" stroke-width="0.8"/>
<line x1="371.6" y1="284.8" x2="371.6" y2="287.8" stroke="#1f3b78" stroke-width="0.8"/>
<line x1="375.7" y1="285.2" x2="375.7" y2="288.2" stroke="#1f3b78" stroke-width="0.8"/>
<line x1="380.7" y1="286.4" x2="380.7" y2="289.4" stroke="#1f3b78" stroke-width="0.8"/>
<line x1="385.9" y1="288.0" x2="385.9" y2="291.0" stroke="#1f3b78" stroke-width="0.8"/>
<line x1="391.7" y1="288.7" x2="391.7" y2="291.7" stroke="#1f3b78" stroke-width="0.8"/>
<line x1="394.3" y1="288.8" x2="394.3" y2="291.8" stroke="#1f3b78" stroke-width="0.8"/>
<line x1="397.7" y1="288.9" x2="397.7" y2="291.9" stroke="#1f3b78" stroke-width="0.8"/>
<line x1="402.5" y1="290.6" x2="402.5" y2="293.6" stroke="#1f3b78" stroke-width="0.8"/>
<line x1="407.9" y1="291.7" x2="407.9" y2="294.7" stroke="#1f3b78" stroke-width="0.8"/>
<line x1="414.9" y1="297.6" x2="414.9" y2="300.6" stroke="#1f3b78" stroke-width="0.8"/>
<line x1="420.6" y1="298.1" x2="420.6" y2="301.1" stroke="#1f3b78" stroke-width="0.8"/>
<line x1="425.4" y1="298.1" x2="425.4" y2="301.1" stroke="#1f3b78" stroke-width="0.8"/>
<line x1="431.0" y1="298.5" x2="431.0" y2="301.5" stroke="#1f3b78" stroke-width="0.8"/>
<line x1="437.4" y1="302.2" x2="437.4" y2="305.2" stroke="#1f3b78" stroke-width="0.8"/>
<line x1="441.6" y1="305.0" x2="441.6" y2="308.0" stroke="#1f3b78" stroke-width="0.8"/>
<line x1="446.0" y1="305.5" x2="446.0" y2="308.5" stroke="#1f3b78" stroke-width="0.8"/>
<text x="8.6" y="16.8" font-size="11.3" fill="#111" stroke="#111" stroke-width="0.32">A</text>
<text x="257.3" y="16.7" font-size="11.3" fill="#111" stroke="#111" stroke-width="0.32">B</text>
<text x="0" y="0" font-size="9.5" fill="#222" stroke="#222" text-anchor="middle" textLength="44.2" lengthAdjust="spacingAndGlyphs" transform="translate(19.4,89.1) rotate(-90)">Probability</text>
<text x="0" y="0" font-size="9.5" fill="#222" stroke="#222" text-anchor="middle" textLength="44.7" lengthAdjust="spacingAndGlyphs" transform="translate(268.3,86.8) rotate(-90)">Probability</text>
<text x="0" y="0" font-size="9.5" fill="#222" stroke="#222" text-anchor="middle" textLength="44.3" lengthAdjust="spacingAndGlyphs" transform="translate(19.4,306.1) rotate(-90)">Probability</text>
<text x="0" y="0" font-size="9.5" fill="#222" stroke="#222" text-anchor="middle" textLength="43.7" lengthAdjust="spacingAndGlyphs" transform="translate(268.5,302.1) rotate(-90)">Probability</text>
<text x="93.9" y="181.5" font-size="9.8" fill="#222" stroke="#222" stroke-width="0.32" textLength="105.6" lengthAdjust="spacingAndGlyphs">Years from start of therapy</text>
<text x="347.2" y="181.5" font-size="9.8" fill="#222" stroke="#222" stroke-width="0.32" textLength="104.2" lengthAdjust="spacingAndGlyphs">Years from start of therapy</text>
<text x="102.4" y="398.3" font-size="9.8" fill="#222" stroke="#222" stroke-width="0.32" textLength="88.9" lengthAdjust="spacingAndGlyphs">Years from registration</text>
<text x="356.6" y="398.3" font-size="9.8" fill="#222" stroke="#222" stroke-width="0.32" textLength="88.9" lengthAdjust="spacingAndGlyphs">Years from registration</text>
<text x="12.4" y="181.8" font-size="7.2" fill="#222" stroke="#222" textLength="50.6" lengthAdjust="spacingAndGlyphs">Numbers At Risk</text>
<text x="261.4" y="181.7" font-size="7.2" fill="#222" stroke="#222" textLength="50.8" lengthAdjust="spacingAndGlyphs">Numbers At Risk</text>
<text x="12.5" y="398.5" font-size="7.2" fill="#222" stroke="#222" textLength="50.6" lengthAdjust="spacingAndGlyphs">Numbers At Risk</text>
<text x="261.7" y="397.9" font-size="7.2" fill="#222" stroke="#222" textLength="50.4" lengthAdjust="spacingAndGlyphs">Numbers At Risk</text>
<text x="7" y="193.6" font-size="7.2" fill="#222" stroke="#222">Non-</text>
<text x="7" y="202.29999999999998" font-size="7.2" fill="#222" stroke="#222">Blast</text>
<text x="7" y="214.4" font-size="7.2" fill="#222" stroke="#222">Blastoid</text>
<text x="43.10" y="198.3" font-size="7.2" fill="#222" stroke="#222" text-anchor="middle" textLength="11.25" lengthAdjust="spacingAndGlyphs">305</text>
<text x="63.71" y="198.3" font-size="7.2" fill="#222" stroke="#222" text-anchor="middle" textLength="11.25" lengthAdjust="spacingAndGlyphs">252</text>
<text x="84.32" y="198.3" font-size="7.2" fill="#222" stroke="#222" text-anchor="middle" textLength="11.25" lengthAdjust="spacingAndGlyphs">229</text>
<text x="104.93" y="198.3" font-size="7.2" fill="#222" stroke="#222" text-anchor="middle" textLength="11.25" lengthAdjust="spacingAndGlyphs">193</text>
<text x="125.54" y="198.3" font-size="7.2" fill="#222" stroke="#222" text-anchor="middle" textLength="11.25" lengthAdjust="spacingAndGlyphs">149</text>
<text x="146.15" y="198.3" font-size="7.2" fill="#222" stroke="#222" text-anchor="middle" textLength="11.25" lengthAdjust="spacingAndGlyphs">100</text>
<text x="166.76" y="198.3" font-size="7.2" fill="#222" stroke="#222" text-anchor="middle" textLength="7.50" lengthAdjust="spacingAndGlyphs">66</text>
<text x="187.37" y="198.3" font-size="7.2" fill="#222" stroke="#222" text-anchor="middle" textLength="7.50" lengthAdjust="spacingAndGlyphs">39</text>
<text x="207.98" y="198.3" font-size="7.2" fill="#222" stroke="#222" text-anchor="middle" textLength="3.75" lengthAdjust="spacingAndGlyphs">8</text>
<text x="228.59" y="198.3" font-size="7.2" fill="#222" stroke="#222" text-anchor="middle" textLength="3.75" lengthAdjust="spacingAndGlyphs">0</text>
<text x="43.10" y="214.4" font-size="7.2" fill="#222" stroke="#222" text-anchor="middle" textLength="7.50" lengthAdjust="spacingAndGlyphs">28</text>
<text x="63.71" y="214.4" font-size="7.2" fill="#222" stroke="#222" text-anchor="middle" textLength="7.50" lengthAdjust="spacingAndGlyphs">19</text>
<text x="84.32" y="214.4" font-size="7.2" fill="#222" stroke="#222" text-anchor="middle" textLength="7.50" lengthAdjust="spacingAndGlyphs">12</text>
<text x="125.54" y="214.4" font-size="7.2" fill="#222" stroke="#222" text-anchor="middle" textLength="3.75" lengthAdjust="spacingAndGlyphs">7</text>
<text x="146.15" y="214.4" font-size="7.2" fill="#222" stroke="#222" text-anchor="middle" textLength="3.75" lengthAdjust="spacingAndGlyphs">5</text>
<text x="166.76" y="214.4" font-size="7.2" fill="#222" stroke="#222" text-anchor="middle" textLength="3.75" lengthAdjust="spacingAndGlyphs">4</text>
<text x="187.37" y="214.4" font-size="7.2" fill="#222" stroke="#222" text-anchor="middle" textLength="3.75" lengthAdjust="spacingAndGlyphs">3</text>
<text x="207.98" y="214.4" font-size="7.2" fill="#222" stroke="#222" text-anchor="middle" textLength="3.75" lengthAdjust="spacingAndGlyphs">0</text>
<text x="256.5" y="193.4" font-size="7.2" fill="#222" stroke="#222">Non-</text>
<text x="256.5" y="202.1" font-size="7.2" fill="#222" stroke="#222">Blast</text>
<text x="258.7" y="214.3" font-size="7.2" fill="#222" stroke="#222">Blastoid</text>
<text x="292.30" y="197.9" font-size="7.2" fill="#222" stroke="#222" text-anchor="middle" textLength="11.25" lengthAdjust="spacingAndGlyphs">253</text>
<text x="313.65" y="197.9" font-size="7.2" fill="#222" stroke="#222" text-anchor="middle" textLength="11.25" lengthAdjust="spacingAndGlyphs">177</text>
<text x="335.00" y="197.9" font-size="7.2" fill="#222" stroke="#222" text-anchor="middle" textLength="11.25" lengthAdjust="spacingAndGlyphs">123</text>
<text x="356.35" y="197.9" font-size="7.2" fill="#222" stroke="#222" text-anchor="middle" textLength="7.50" lengthAdjust="spacingAndGlyphs">93</text>
<text x="377.70" y="197.9" font-size="7.2" fill="#222" stroke="#222" text-anchor="middle" textLength="7.50" lengthAdjust="spacingAndGlyphs">68</text>
<text x="399.05" y="197.9" font-size="7.2" fill="#222" stroke="#222" text-anchor="middle" textLength="7.50" lengthAdjust="spacingAndGlyphs">44</text>
<text x="420.40" y="197.9" font-size="7.2" fill="#222" stroke="#222" text-anchor="middle" textLength="7.50" lengthAdjust="spacingAndGlyphs">29</text>
<text x="441.75" y="197.9" font-size="7.2" fill="#222" stroke="#222" text-anchor="middle" textLength="7.50" lengthAdjust="spacingAndGlyphs">18</text>
<text x="463.10" y="197.9" font-size="7.2" fill="#222" stroke="#222" text-anchor="middle" textLength="3.75" lengthAdjust="spacingAndGlyphs">5</text>
<text x="484.45" y="197.9" font-size="7.2" fill="#222" stroke="#222" text-anchor="middle" textLength="3.75" lengthAdjust="spacingAndGlyphs">0</text>
<text x="292.30" y="214.3" font-size="7.2" fill="#222" stroke="#222" text-anchor="middle" textLength="7.50" lengthAdjust="spacingAndGlyphs">34</text>
<text x="313.65" y="214.3" font-size="7.2" fill="#222" stroke="#222" text-anchor="middle" textLength="7.50" lengthAdjust="spacingAndGlyphs">22</text>
<text x="335.00" y="214.3" font-size="7.2" fill="#222" stroke="#222" text-anchor="middle" textLength="7.50" lengthAdjust="spacingAndGlyphs">14</text>
<text x="356.35" y="214.3" font-size="7.2" fill="#222" stroke="#222" text-anchor="middle" textLength="7.50" lengthAdjust="spacingAndGlyphs">10</text>
<text x="377.70" y="214.3" font-size="7.2" fill="#222" stroke="#222" text-anchor="middle" textLength="3.75" lengthAdjust="spacingAndGlyphs">6</text>
<text x="399.05" y="214.3" font-size="7.2" fill="#222" stroke="#222" text-anchor="middle" textLength="3.75" lengthAdjust="spacingAndGlyphs">5</text>
<text x="420.40" y="214.3" font-size="7.2" fill="#222" stroke="#222" text-anchor="middle" textLength="3.75" lengthAdjust="spacingAndGlyphs">4</text>
<text x="441.75" y="214.3" font-size="7.2" fill="#222" stroke="#222" text-anchor="middle" textLength="3.75" lengthAdjust="spacingAndGlyphs">3</text>
<text x="463.10" y="214.3" font-size="7.2" fill="#222" stroke="#222" text-anchor="middle" textLength="3.75" lengthAdjust="spacingAndGlyphs">0</text>
<text x="7.2" y="409.8" font-size="7.2" fill="#222" stroke="#222">Non-</text>
<text x="7.2" y="418.5" font-size="7.2" fill="#222" stroke="#222">blast</text>
<text x="9.5" y="431.1" font-size="7.2" fill="#222" stroke="#222">Blastoid</text>
<text x="43.60" y="414.8" font-size="7.2" fill="#222" stroke="#222" text-anchor="middle" textLength="11.25" lengthAdjust="spacingAndGlyphs">305</text>
<text x="64.09" y="414.8" font-size="7.2" fill="#222" stroke="#222" text-anchor="middle" textLength="11.25" lengthAdjust="spacingAndGlyphs">276</text>
<text x="84.58" y="414.8" font-size="7.2" fill="#222" stroke="#222" text-anchor="middle" textLength="11.25" lengthAdjust="spacingAndGlyphs">251</text>
<text x="105.07" y="414.8" font-size="7.2" fill="#222" stroke="#222" text-anchor="middle" textLength="11.25" lengthAdjust="spacingAndGlyphs">235</text>
<text x="125.56" y="414.8" font-size="7.2" fill="#222" stroke="#222" text-anchor="middle" textLength="11.25" lengthAdjust="spacingAndGlyphs">189</text>
<text x="146.05" y="414.8" font-size="7.2" fill="#222" stroke="#222" text-anchor="middle" textLength="11.25" lengthAdjust="spacingAndGlyphs">142</text>
<text x="166.54" y="414.8" font-size="7.2" fill="#222" stroke="#222" text-anchor="middle" textLength="11.25" lengthAdjust="spacingAndGlyphs">102</text>
<text x="187.03" y="414.8" font-size="7.2" fill="#222" stroke="#222" text-anchor="middle" textLength="7.50" lengthAdjust="spacingAndGlyphs">60</text>
<text x="207.52" y="414.8" font-size="7.2" fill="#222" stroke="#222" text-anchor="middle" textLength="7.50" lengthAdjust="spacingAndGlyphs">13</text>
<text x="228.01" y="414.8" font-size="7.2" fill="#222" stroke="#222" text-anchor="middle" textLength="3.75" lengthAdjust="spacingAndGlyphs">0</text>
<text x="43.60" y="431.1" font-size="7.2" fill="#222" stroke="#222" text-anchor="middle" textLength="7.50" lengthAdjust="spacingAndGlyphs">28</text>
<text x="64.09" y="431.1" font-size="7.2" fill="#222" stroke="#222" text-anchor="middle" textLength="7.50" lengthAdjust="spacingAndGlyphs">22</text>
<text x="84.58" y="431.1" font-size="7.2" fill="#222" stroke="#222" text-anchor="middle" textLength="7.50" lengthAdjust="spacingAndGlyphs">15</text>
<text x="105.07" y="431.1" font-size="7.2" fill="#222" stroke="#222" text-anchor="middle" textLength="7.50" lengthAdjust="spacingAndGlyphs">13</text>
<text x="125.56" y="431.1" font-size="7.2" fill="#222" stroke="#222" text-anchor="middle" textLength="7.50" lengthAdjust="spacingAndGlyphs">10</text>
<text x="146.05" y="431.1" font-size="7.2" fill="#222" stroke="#222" text-anchor="middle" textLength="3.75" lengthAdjust="spacingAndGlyphs">6</text>
<text x="166.54" y="431.1" font-size="7.2" fill="#222" stroke="#222" text-anchor="middle" textLength="3.75" lengthAdjust="spacingAndGlyphs">5</text>
<text x="187.03" y="431.1" font-size="7.2" fill="#222" stroke="#222" text-anchor="middle" textLength="3.75" lengthAdjust="spacingAndGlyphs">4</text>
<text x="207.52" y="431.1" font-size="7.2" fill="#222" stroke="#222" text-anchor="middle" textLength="3.75" lengthAdjust="spacingAndGlyphs">0</text>
<text x="256.3" y="409.8" font-size="7.2" fill="#222" stroke="#222">Non-</text>
<text x="256.3" y="418.5" font-size="7.2" fill="#222" stroke="#222">blast</text>
<text x="256.3" y="431.3" font-size="7.2" fill="#222" stroke="#222">Blastoid</text>
<text x="292.20" y="414.3" font-size="7.2" fill="#222" stroke="#222" text-anchor="middle" textLength="11.25" lengthAdjust="spacingAndGlyphs">253</text>
<text x="313.90" y="414.3" font-size="7.2" fill="#222" stroke="#222" text-anchor="middle" textLength="11.25" lengthAdjust="spacingAndGlyphs">207</text>
<text x="335.60" y="414.3" font-size="7.2" fill="#222" stroke="#222" text-anchor="middle" textLength="11.25" lengthAdjust="spacingAndGlyphs">165</text>
<text x="357.30" y="414.3" font-size="7.2" fill="#222" stroke="#222" text-anchor="middle" textLength="11.25" lengthAdjust="spacingAndGlyphs">135</text>
<text x="379.00" y="414.3" font-size="7.2" fill="#222" stroke="#222" text-anchor="middle" textLength="11.25" lengthAdjust="spacingAndGlyphs">104</text>
<text x="400.70" y="414.3" font-size="7.2" fill="#222" stroke="#222" text-anchor="middle" textLength="7.50" lengthAdjust="spacingAndGlyphs">77</text>
<text x="422.40" y="414.3" font-size="7.2" fill="#222" stroke="#222" text-anchor="middle" textLength="7.50" lengthAdjust="spacingAndGlyphs">51</text>
<text x="444.10" y="414.3" font-size="7.2" fill="#222" stroke="#222" text-anchor="middle" textLength="7.50" lengthAdjust="spacingAndGlyphs">29</text>
<text x="465.80" y="414.3" font-size="7.2" fill="#222" stroke="#222" text-anchor="middle" textLength="3.75" lengthAdjust="spacingAndGlyphs">9</text>
<text x="487.50" y="414.3" font-size="7.2" fill="#222" stroke="#222" text-anchor="middle" textLength="3.75" lengthAdjust="spacingAndGlyphs">3</text>
<text x="509.20" y="414.3" font-size="7.2" fill="#222" stroke="#222" text-anchor="middle" textLength="3.75" lengthAdjust="spacingAndGlyphs">0</text>
<text x="292.20" y="431.3" font-size="7.2" fill="#222" stroke="#222" text-anchor="middle" textLength="7.50" lengthAdjust="spacingAndGlyphs">34</text>
<text x="313.90" y="431.3" font-size="7.2" fill="#222" stroke="#222" text-anchor="middle" textLength="7.50" lengthAdjust="spacingAndGlyphs">25</text>
<text x="335.60" y="431.3" font-size="7.2" fill="#222" stroke="#222" text-anchor="middle" textLength="7.50" lengthAdjust="spacingAndGlyphs">18</text>
<text x="357.30" y="431.3" font-size="7.2" fill="#222" stroke="#222" text-anchor="middle" textLength="7.50" lengthAdjust="spacingAndGlyphs">14</text>
<text x="379.00" y="431.3" font-size="7.2" fill="#222" stroke="#222" text-anchor="middle" textLength="3.75" lengthAdjust="spacingAndGlyphs">7</text>
<text x="422.40" y="431.3" font-size="7.2" fill="#222" stroke="#222" text-anchor="middle" textLength="3.75" lengthAdjust="spacingAndGlyphs">4</text>
<text x="444.10" y="431.3" font-size="7.2" fill="#222" stroke="#222" text-anchor="middle" textLength="3.75" lengthAdjust="spacingAndGlyphs">3</text>
<text x="465.80" y="431.3" font-size="7.2" fill="#222" stroke="#222" text-anchor="middle" textLength="3.75" lengthAdjust="spacingAndGlyphs">0</text>
<text x="162.2" y="33" font-size="6.9" fill="#222" stroke="#222" textLength="40.8" lengthAdjust="spacingAndGlyphs">MCL Younger</text>
<line x1="145.9" y1="41.2" x2="156.5" y2="41.2" stroke="#4a66a0" stroke-width="1.1"/>
<line x1="145.9" y1="52.4" x2="156.5" y2="52.4" stroke="#c43c62" stroke-width="1.1"/>
<text x="160" y="43.8" font-size="6.9" fill="#3a5795" stroke="#3a5795" textLength="73.1" lengthAdjust="spacingAndGlyphs">Non-Blast, median = 5.4</text>
<text x="160" y="55.0" font-size="6.9" fill="#bd3457" stroke="#bd3457" textLength="67.8" lengthAdjust="spacingAndGlyphs">Blastoid, median = 1.5</text>
<text x="160" y="65.7" font-size="6.9" fill="#222" stroke="#222" textLength="28.1" lengthAdjust="spacingAndGlyphs">p = 0.054</text>
<text x="418.1" y="30.7" font-size="6.9" fill="#222" stroke="#222" textLength="36.3" lengthAdjust="spacingAndGlyphs">MCL Elderly</text>
<line x1="404.2" y1="39.2" x2="414.6" y2="39.2" stroke="#4a66a0" stroke-width="1.1"/>
<line x1="404.2" y1="50.8" x2="414.6" y2="50.8" stroke="#c43c62" stroke-width="1.1"/>
<text x="418.1" y="41.8" font-size="6.9" fill="#3a5795" stroke="#3a5795" textLength="73.9" lengthAdjust="spacingAndGlyphs">Non-Blast, median = 2.4</text>
<text x="418.1" y="53.4" font-size="6.9" fill="#bd3457" stroke="#bd3457" textLength="69.3" lengthAdjust="spacingAndGlyphs">Blastoid, median = 1.7</text>
<text x="418.1" y="64.4" font-size="6.9" fill="#222" stroke="#222" textLength="24.7" lengthAdjust="spacingAndGlyphs">p = 0.29</text>
<text x="170.5" y="250.7" font-size="6.9" fill="#222" stroke="#222" textLength="41" lengthAdjust="spacingAndGlyphs">MCL Younger</text>
<line x1="48" y1="343.1" x2="58.75" y2="343.1" stroke="#4a66a0" stroke-width="1.1"/>
<line x1="48" y1="353.7" x2="58.75" y2="353.7" stroke="#c43c62" stroke-width="1.1"/>
<text x="62" y="345.7" font-size="6.9" fill="#3a5795" stroke="#3a5795" textLength="97.5" lengthAdjust="spacingAndGlyphs">Non-blast., median not reached</text>
<text x="62" y="356.3" font-size="6.9" fill="#bd3457" stroke="#bd3457" textLength="67.5" lengthAdjust="spacingAndGlyphs">Blastoid, median = 2.7</text>
<text x="62" y="367" font-size="6.9" fill="#222" stroke="#222" textLength="31.0" lengthAdjust="spacingAndGlyphs">p = 0.0001</text>
<text x="423.8" y="243.8" font-size="6.9" fill="#222" stroke="#222" textLength="36.2" lengthAdjust="spacingAndGlyphs">MCL Elderly</text>
<line x1="302.5" y1="342.2" x2="312" y2="342.2" stroke="#4a66a0" stroke-width="1.1"/>
<line x1="302.5" y1="353.5" x2="312" y2="353.5" stroke="#c43c62" stroke-width="1.1"/>
<text x="315" y="344.8" font-size="6.9" fill="#3a5795" stroke="#3a5795" textLength="75.7" lengthAdjust="spacingAndGlyphs">Non-blast., median = 6.6</text>
<text x="315" y="356.1" font-size="6.9" fill="#bd3457" stroke="#bd3457" textLength="68.7" lengthAdjust="spacingAndGlyphs">Blastoid, median = 2.4</text>
<text x="315" y="366.7" font-size="6.9" fill="#222" stroke="#222" textLength="32.0" lengthAdjust="spacingAndGlyphs">p = 0.0085</text>
</svg>
</body></html>
